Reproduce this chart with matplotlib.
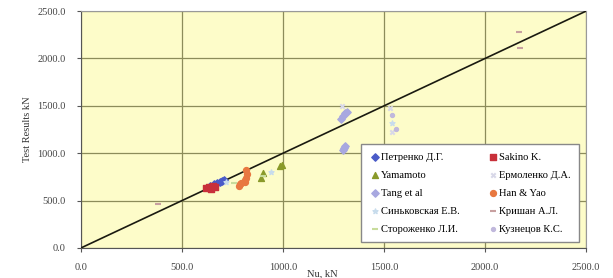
import numpy as np
import matplotlib
matplotlib.use('Agg')
import matplotlib.pyplot as plt

plt.rcParams['font.family'] = ['Liberation Serif', 'DejaVu Serif']

# series: x = calculated, y = test results
petrenko_x = [640, 660, 675, 690, 700, 710]
petrenko_y = [655, 670, 690, 700, 710, 720]
sakino_x = [620, 635, 645, 655, 665]
sakino_y = [630, 640, 625, 650, 645]
yamamoto_x = [890, 900, 985, 995]
yamamoto_y = [740, 790, 860, 880]
ermolenko_x = [1290, 1530, 1540]
ermolenko_y = [1500, 1480, 1220]
tang_x = [1285, 1295, 1305, 1315, 1295, 1300, 1305]
tang_y = [1360, 1390, 1420, 1440, 1030, 1060, 1080]
han_x = [810, 815, 820, 815, 810, 780, 785, 790]
han_y = [700, 740, 780, 820, 720, 650, 670, 690]
sinkovskaya_x = [720, 940, 1540]
sinkovskaya_y = [700, 800, 1320]
krishan_x = [380, 2170, 2175]
krishan_y = [460, 2280, 2110]
storozhenko_x = [760, 900]
storozhenko_y = [690, 760]
kuznetsov_x = [1540, 1560]
kuznetsov_y = [1400, 1260]

fig = plt.figure(figsize=(6.13, 2.78), dpi=100)
ax = fig.add_axes([0.132, 0.108, 0.824, 0.852])
ax.set_facecolor('#FDFCC9')

ax.plot([0, 2500], [0, 2500], color='#1a1a10', lw=1.2, zorder=3)

h = {}
h['pet'] = ax.scatter(petrenko_x, petrenko_y, marker='D', s=14, color='#4A5BC8', label='Петренко Д.Г.', zorder=4)
h['sak'] = ax.scatter(sakino_x, sakino_y, marker='s', s=16, color='#C8303A', label='Sakino K.', zorder=4)
h['yam'] = ax.scatter(yamamoto_x, yamamoto_y, marker='^', s=18, color='#8A9A2A', label='Yamamoto', zorder=4)
h['erm'] = ax.scatter(ermolenko_x, ermolenko_y, marker='x', s=10, color='#D8D8E8', label='Ермоленко Д.А.', zorder=4)
h['tang'] = ax.scatter(tang_x, tang_y, marker='D', s=14, color='#A8A8E0', label='Tang et al', zorder=4)
h['han'] = ax.scatter(han_x, han_y, marker='o', s=18, color='#E87840', label='Han & Yao', zorder=4)
h['sin'] = ax.scatter(sinkovskaya_x, sinkovskaya_y, marker='*', s=14, color='#C8DCEC', label='Синьковская Е.В.', zorder=4)
h['kri'] = ax.scatter(krishan_x, krishan_y, marker='_', s=14, color='#C8A0A0', label='Кришан А.Л.', zorder=4)
h['sto'] = ax.scatter(storozhenko_x, storozhenko_y, marker='_', s=14, color='#C8DC9C', label='Стороженко Л.И.', zorder=4)
h['kuz'] = ax.scatter(kuznetsov_x, kuznetsov_y, marker='o', s=8, color='#C0B8DC', label='Кузнецов К.С.', zorder=4)

ticks = [0, 500, 1000, 1500, 2000, 2500]
ax.set_xlim(0, 2500)
ax.set_ylim(0, 2500)
ax.set_xticks(ticks)
ax.set_yticks(ticks)
ax.set_xticklabels(['%.1f' % t for t in ticks], fontsize=7.5, color='#444444')
ax.set_yticklabels(['%.1f' % t for t in ticks], fontsize=7.5, color='#444444')
ax.grid(True, color='#8C8C5A', lw=0.9)
ax.set_axisbelow(True)
ax.tick_params(length=3, color='#555555', pad=8)
for s in ax.spines.values():
    s.set_color('#999999')
ax.spines['left'].set_color('#555555')
ax.spines['bottom'].set_color('#555555')

ax.set_ylabel('Test Results kN', fontsize=7.5, color='#333333', labelpad=4)
fig.text(0.525, 0.0, 'Nu, kN', fontsize=7.5, color='#333333', ha='center', va='bottom')

order = ['pet', 'yam', 'tang', 'sin', 'sto', 'sak', 'erm', 'han', 'kri', 'kuz']
ax.legend([h[k] for k in order], [h[k].get_label() for k in order],
          ncol=2, loc='lower right', bbox_to_anchor=(0.997, 0.003), fontsize=7.6,
          frameon=True, fancybox=False, edgecolor='#888888', framealpha=1,
          handletextpad=0.1, handlelength=1.0, columnspacing=2.6, labelspacing=0.8,
          borderpad=0.8)

fig.savefig('out.png', dpi=100)
